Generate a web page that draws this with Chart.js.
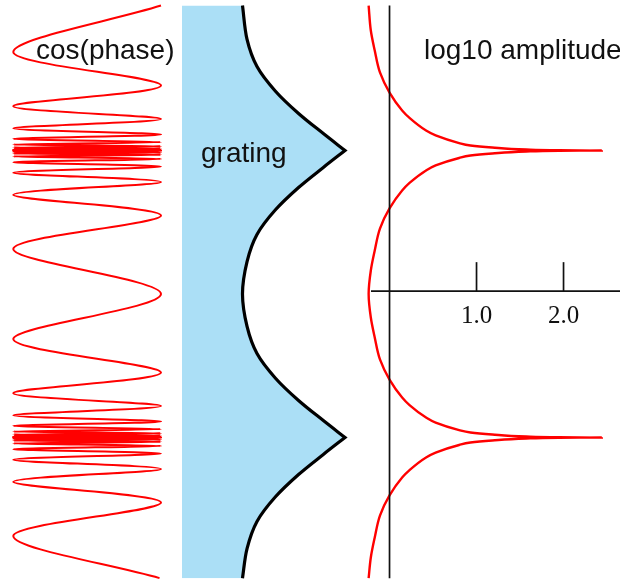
<!DOCTYPE html>
<html>
<head>
<meta charset="utf-8">
<title>grating phase and amplitude</title>
<script src="https://cdn.jsdelivr.net/npm/chart.js@4.4.1/dist/chart.umd.min.js"></script>
<style>
  body { margin: 0; background: #fff; }
  #wrap { position: relative; width: 620px; height: 583px; overflow: hidden; }
  #chart { position: absolute; left: 0; top: 0; }
  .title { position: absolute; font-family: "Liberation Sans", Arial, sans-serif; font-size: 28px; line-height: 28px; color: #111; white-space: nowrap; }
  .tick { position: absolute; font-family: "Liberation Serif", "Times New Roman", serif; font-size: 25px; line-height: 25px; color: #111; transform: translateX(-50%); white-space: nowrap; }
</style>
</head>
<body>
<div id="wrap">
  <canvas id="chart" width="620" height="583"></canvas>
  <div class="title" style="left:36px; top:36px;">cos(phase)</div>
  <div class="title" style="left:201px; top:139px;">grating</div>
  <div class="title" style="left:424px; top:36px;">log10 amplitude</div>
</div>
<script>
// position along the grating (one period = 2, cusps at +1 and -1)
const cosPositions = [
  2.01, 1.686, 1.453, 1.309, 1.2195, 1.1554, 1.1115, 1.0815, 1.0585, 1.0418,
  1.0300, 1.0209, 1.0153, 1.0108, 1.0077, 1.0056, 1.0040, 1.0028,
  0.9972, 0.9960, 0.9944, 0.9923, 0.9892, 0.9847, 0.9791, 0.9700, 0.9582,
  0.9415, 0.9185, 0.8885, 0.8446, 0.7805, 0.691, 0.547, 0.314,
  0,
  -0.314, -0.547, -0.691, -0.7805, -0.8446, -0.8885, -0.9185, -0.9415, -0.9582,
  -0.9700, -0.9791, -0.9847, -0.9892, -0.9923, -0.9944, -0.9960, -0.9972,
  -1.0028, -1.0040, -1.0056, -1.0077, -1.0108, -1.0153, -1.0209, -1.0300,
  -1.0418, -1.0585, -1.0815, -1.1115, -1.1554, -1.2195, -1.309, -1.453, -1.686, -1.98
];
const cosValues = [
  1, -1, 1, -1, 1, -1, 1, -1, 1, -1,
  1, -1, 1, -1, 1, -1, 1, -1,
  -1, 1, -1, 1, -1, 1, -1, 1, -1,
  1, -1, 1, -1, 1, -1, 1, -1,
  1,
  -1, 1, -1, 1, -1, 1, -1, 1, -1,
  1, -1, 1, -1, 1, -1, 1, -1,
  -1, 1, -1, 1, -1, 1, -1, 1,
  -1, 1, -1, 1, -1, 1, -1, 1, -1, 0.98
];

const gratingPositions = [
  2.01, 1.774, 1.585, 1.415, 1.258, 1.118, 1.0, 1.0,
  0.882, 0.742, 0.585, 0.415, 0.226, 0, -0.226, -0.415, -0.585, -0.742, -0.882,
  -1.0, -1.0, -1.118, -1.258, -1.415, -1.585, -1.774, -1.98
];
const gratingDepth = [
  0.371, 0.399, 0.460, 0.572, 0.715, 0.867, 1.0, 1.0,
  0.867, 0.715, 0.572, 0.460, 0.399, 0.371, 0.399, 0.460, 0.572, 0.715, 0.867,
  1.0, 1.0, 0.867, 0.715, 0.572, 0.460, 0.399, 0.371
];

const ampPositions = [
  2.01, 1.836, 1.697, 1.544, 1.404, 1.279, 1.227, 1.139, 1.105, 1.052, 1.035, 1.021, 1.007, 1.002,
  1.0,
  0.998, 0.993, 0.979, 0.965, 0.948, 0.896, 0.861, 0.774, 0.721, 0.596, 0.456, 0.303, 0.164,
  0,
  -0.164, -0.303, -0.456, -0.596, -0.721, -0.774, -0.861, -0.896, -0.948, -0.965, -0.979, -0.993, -0.998,
  -1.0,
  -1.002, -1.007, -1.021, -1.035, -1.052, -1.105, -1.139, -1.227, -1.279, -1.404, -1.544, -1.697, -1.836, -1.98
];
const ampLog10 = [
  -0.24, -0.215, -0.17, -0.11, 0, 0.145, 0.23, 0.42, 0.53, 0.80, 0.93, 1.18, 1.57, 1.95,
  2.44,
  1.95, 1.57, 1.18, 0.93, 0.80, 0.53, 0.42, 0.23, 0.145, 0, -0.11, -0.17, -0.215,
  -0.24,
  -0.215, -0.17, -0.11, 0, 0.145, 0.23, 0.42, 0.53, 0.80, 0.93, 1.18, 1.57, 1.95,
  2.44,
  1.95, 1.57, 1.18, 0.93, 0.80, 0.53, 0.42, 0.23, 0.145, 0, -0.11, -0.17, -0.215, -0.24
];

const ampTicks = [1.0, 2.0];
const ampTickLabels = ['1.0', '2.0'];
const axisLevel = 0.02;
const axisStart = -0.213;
const positionRange = [2.01, -1.98];

function toPoints(values, positions) {
  return values.map((v, i) => ({ x: v, y: positions[i] }));
}

function lineSet(axisId, points, color, width, tension) {
  return {
    xAxisID: axisId,
    yAxisID: 'y',
    data: points,
    borderColor: color,
    borderWidth: width,
    pointRadius: 0,
    tension: tension,
    fill: false
  };
}

const datasets = [];

// grating profile, filled from its flat back
const grating = lineSet('xG', toPoints(gratingDepth, gratingPositions), '#000', 3.2, 0.33);
grating.fill = { value: 0 };
grating.backgroundColor = '#abdff6';
datasets.push(grating);

datasets.push(lineSet('xC', toPoints(cosValues, cosPositions), '#ff0000', 2, 0.33));

// amplitude axes
datasets.push(lineSet('xL', [{ x: 0, y: positionRange[0] }, { x: 0, y: positionRange[1] }], '#111', 1.7, 0));
datasets.push(lineSet('xL', [{ x: axisStart, y: axisLevel }, { x: 2.65, y: axisLevel }], '#111', 1.7, 0));
ampTicks.forEach(t => {
  datasets.push(lineSet('xL', [{ x: t, y: axisLevel }, { x: t, y: axisLevel + 0.202 }], '#111', 1.7, 0));
});

const amp = lineSet('xL', toPoints(ampLog10, ampPositions), '#ff0000', 2.4, 0.4);
amp.cubicInterpolationMode = 'monotone';
datasets.push(amp);

const chart = new Chart(document.getElementById('chart'), {
  type: 'line',
  data: { datasets: datasets },
  options: {
    indexAxis: 'y',
    responsive: false,
    animation: false,
    layout: { padding: 0 },
    plugins: { legend: { display: false }, tooltip: { enabled: false } },
    scales: {
      y: { type: 'linear', display: false, min: -2.0139, max: 2.0488 },
      xC: { type: 'linear', axis: 'x', display: false, min: -1.180, max: 7.215 },
      xG: { type: 'linear', axis: 'x', display: false, min: -1.1166, max: 2.687 },
      xL: { type: 'linear', axis: 'x', display: false, min: -4.477, max: 2.649 }
    }
  }
});

// tick labels under the amplitude axis
const wrap = document.getElementById('wrap');
ampTicks.forEach((t, i) => {
  const el = document.createElement('div');
  el.className = 'tick';
  el.textContent = ampTickLabels[i];
  el.style.left = chart.scales.xL.getPixelForValue(t) + 'px';
  el.style.top = (chart.scales.y.getPixelForValue(axisLevel) + 10.5) + 'px';
  wrap.appendChild(el);
});
</script>
</body>
</html>
